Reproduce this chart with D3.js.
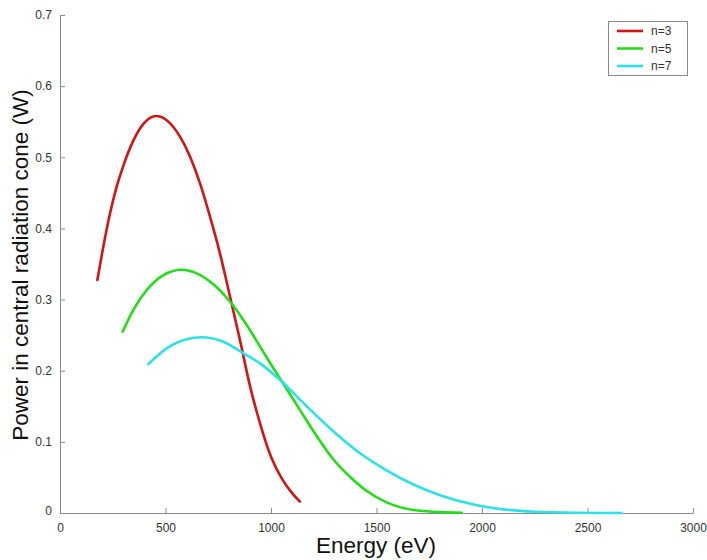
<!DOCTYPE html>
<html>
<head>
<meta charset="utf-8">
<script src="https://cdn.jsdelivr.net/npm/d3@7"></script>
<style>
  body { margin: 0; background: #fff; }
  svg { display: block; }
  text { font-family: "Liberation Sans", Arial, Helvetica, sans-serif; }
</style>
</head>
<body>
<svg id="chart" width="707" height="560"></svg>
<script>
// ---- data ----
const seriesNames = ["n=3", "n=5", "n=7"];
const energyN3 = [177, 205, 237, 269, 300, 347, 395, 458, 521, 569, 616, 664, 711, 758, 806, 853, 900, 950, 1000, 1050, 1100, 1137];
const powerN3  = [0.3275, 0.374, 0.421, 0.459, 0.488, 0.523, 0.547, 0.558, 0.548, 0.529, 0.501, 0.463, 0.4165, 0.365, 0.304, 0.243, 0.179, 0.124, 0.079, 0.049, 0.028, 0.016];
const energyN5 = [297, 347, 411, 490, 577, 648, 727, 806, 885, 948, 987, 1058, 1137, 1217, 1295, 1374, 1454, 1548, 1675, 1801, 1904];
const powerN5  = [0.2549, 0.2853, 0.3135, 0.3345, 0.342, 0.3369, 0.3215, 0.297, 0.2643, 0.234, 0.2151, 0.182, 0.145, 0.108, 0.0755, 0.051, 0.031, 0.015, 0.0042, 0.0012, 0.0004];
const energyN7 = [419, 506, 600, 670, 774, 869, 948, 1043, 1169, 1295, 1422, 1548, 1675, 1801, 1959, 2090, 2250, 2450, 2662];
const powerN7  = [0.2094, 0.2315, 0.2441, 0.247, 0.2408, 0.2245, 0.2104, 0.187, 0.150, 0.115, 0.084, 0.060, 0.040, 0.025, 0.012, 0.0055, 0.0018, 0.0004, 0.0];
const xTicks = [0, 500, 1000, 1500, 2000, 2500, 3000];
const yTicks = [0, 0.1, 0.2, 0.3, 0.4, 0.5, 0.6, 0.7];
const colors = ["#d01515", "#22dd1a", "#2de2e6"];

const series = [
  { name: seriesNames[0], x: energyN3, y: powerN3, color: colors[0] },
  { name: seriesNames[1], x: energyN5, y: powerN5, color: colors[1] },
  { name: seriesNames[2], x: energyN7, y: powerN7, color: colors[2] }
];

// ---- layout ----
const svg = d3.select("#chart");
const x = d3.scaleLinear().domain([0, 3000]).range([60, 693]);
const y = d3.scaleLinear().domain([0, 0.7]).range([513, 15]);
const axisColor = "#8a8a8a";
const tickColor = "#333";

// x axis
const gx = svg.append("g").attr("transform", `translate(0,${y(0)})`)
  .call(d3.axisBottom(x).tickValues(xTicks).tickSizeInner(-5).tickSizeOuter(0).tickPadding(10)
    .tickFormat(d3.format("d")));
gx.select(".domain").attr("stroke", axisColor);
gx.selectAll(".tick line").attr("stroke", axisColor);
gx.selectAll(".tick text").attr("fill", tickColor).attr("font-size", 12)
  .attr("font-family", "Liberation Sans, Arial, sans-serif");

// y axis
const gy = svg.append("g").attr("transform", `translate(${x(0)},0)`)
  .call(d3.axisLeft(y).tickValues(yTicks).tickSizeInner(-5).tickSizeOuter(0).tickPadding(8)
    .tickFormat(d => d === 0 ? "0" : d3.format(".1f")(d)));
gy.select(".domain").attr("stroke", axisColor);
gy.selectAll(".tick line").attr("stroke", axisColor);
gy.selectAll(".tick text").attr("fill", tickColor).attr("font-size", 12)
  .attr("font-family", "Liberation Sans, Arial, sans-serif");
gy.selectAll(".tick").filter(d => d === 0).select("text").attr("dy", "0.1em");

// axis titles
svg.append("text").attr("x", 376).attr("y", 553).attr("text-anchor", "middle")
  .attr("font-size", 22.5).attr("fill", "#111").text("Energy (eV)");
svg.append("text").attr("transform", "translate(28,265) rotate(-90)").attr("text-anchor", "middle")
  .attr("font-size", 22.5).attr("fill", "#111").text("Power in central radiation cone (W)");

// lines
const line = d3.line().x(d => x(d[0])).y(d => y(d[1])).curve(d3.curveMonotoneX);
series.forEach(s => {
  const pts = s.x.map((v, i) => [v, s.y[i]]);
  svg.append("path").datum(pts).attr("d", line)
    .attr("fill", "none").attr("stroke", s.color).attr("stroke-width", 2.6)
    .attr("stroke-linejoin", "round").attr("stroke-linecap", "round");
});

// legend
const lg = svg.append("g");
lg.append("rect").attr("x", 608.5).attr("y", 21.5).attr("width", 79).attr("height", 54)
  .attr("fill", "#fff").attr("stroke", axisColor).attr("stroke-width", 1);
series.forEach((s, i) => {
  const yy = 31 + i * 17.5;
  lg.append("line").attr("x1", 617).attr("x2", 643).attr("y1", yy).attr("y2", yy)
    .attr("stroke", s.color).attr("stroke-width", 2.6);
  lg.append("text").attr("x", 651).attr("y", yy + 4).attr("font-size", 12).attr("fill", "#333").text(s.name);
});
</script>
</body>
</html>
